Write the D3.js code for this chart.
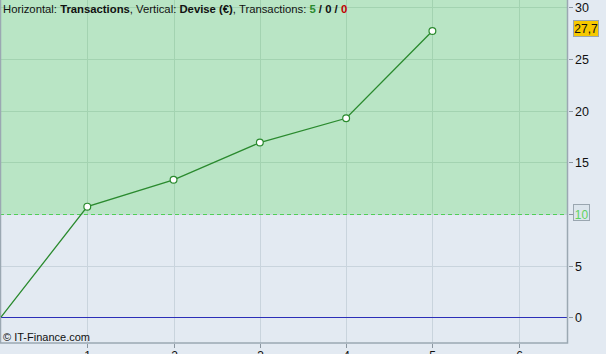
<!DOCTYPE html>
<html lang="fr">
<head>
<meta charset="UTF-8">
<title>Transactions</title>
<script src="https://cdn.jsdelivr.net/npm/d3@7"></script>
<style>
  body { margin: 0; background: #e3eaf2; }
  svg { display: block; font-family: "Liberation Sans", Arial, sans-serif; }
</style>
</head>
<body>
<svg width="606" height="354"></svg>
<script>
    // data
    const trades = [0, 1, 2, 3, 4, 5]
    const equity = [0, 10.7, 13.3, 16.9, 19.25, 27.7]
    const xTicks = [1, 2, 3, 4, 5, 6]
    const yTicks = [0, 5, 10, 15, 20, 25, 30]
    const startLevel = 10
    const lastLabel = "27,7"

    const width = 606, height = 354
    const plotW = 567, plotH = 343

    const svg = d3.select("svg")

    const x = d3.scaleLinear().domain([0, 6.56]).range([1, plotW])
    const y = d3.scaleLinear().domain([-2.5, 30.7]).range([plotH, 0])

    svg.append("rect").attr("width", width).attr("height", height).attr("fill", "#e3eaf2")

    const plot = svg.append("g")
    // lower (blue) and upper (green) zones
    plot.append("rect").attr("x", 0).attr("y", 0).attr("width", plotW).attr("height", plotH)
        .attr("fill", "#e3eaf2")
    plot.append("rect").attr("x", 0).attr("y", 0).attr("width", plotW).attr("height", y(startLevel))
        .attr("fill", "#b9e5c5")

    // grid
    const gridCol = v => v > startLevel ? "#a3d3b1" : "#c9d4dd"
    plot.selectAll(".gy").data(yTicks.filter(d => d !== 0)).join("line")
        .attr("x1", 0).attr("x2", plotW)
        .attr("y1", d => Math.round(y(d)) + 0.5).attr("y2", d => Math.round(y(d)) + 0.5)
        .attr("stroke", gridCol)
    xTicks.forEach(t => {
        const px = Math.round(x(t)) + 0.5
        plot.append("line").attr("x1", px).attr("x2", px).attr("y1", 0).attr("y2", y(startLevel))
            .attr("stroke", "#a3d3b1")
        plot.append("line").attr("x1", px).attr("x2", px).attr("y1", y(startLevel)).attr("y2", plotH)
            .attr("stroke", "#c9d4dd")
    })

    // start level dashed line
    plot.append("line")
        .attr("x1", 0).attr("x2", plotW)
        .attr("y1", Math.round(y(startLevel)) + 0.5).attr("y2", Math.round(y(startLevel)) + 0.5)
        .attr("stroke", "#4fcf55").attr("stroke-dasharray", "4,3")

    // zero line
    plot.append("line")
        .attr("x1", 0).attr("x2", plotW)
        .attr("y1", Math.round(y(0)) + 0.5).attr("y2", Math.round(y(0)) + 0.5)
        .attr("stroke", "#2b2fb8")

    // frame
    plot.append("rect").attr("x", 0.5).attr("y", -1).attr("width", plotW).attr("height", plotH + 1)
        .attr("fill", "none").attr("stroke", "#9ba8b2").attr("stroke-width", 1.5)

    // equity line
    const line = d3.line().x((d, i) => x(trades[i])).y(d => y(d))
    plot.append("path").datum(equity).attr("d", line)
        .attr("fill", "none").attr("stroke", "#2a8a2e").attr("stroke-width", 1.3)
    plot.selectAll(".pt").data(equity.slice(1)).join("circle")
        .attr("cx", (d, i) => x(trades[i + 1])).attr("cy", d => y(d)).attr("r", 3.4)
        .attr("fill", "#fff").attr("stroke", "#2a8a2e").attr("stroke-width", 1.2)

    // right axis
    const yAxis = svg.append("g")
    yTicks.forEach(t => {
        const py = Math.round(y(t)) + 0.5
        yAxis.append("line").attr("x1", plotW + 2).attr("x2", plotW + 6).attr("y1", py).attr("y2", py)
            .attr("stroke", "#8a96a0")
        if (t === startLevel) return
        yAxis.append("text").attr("x", plotW + 8).attr("y", py + 4.5)
            .attr("font-size", 12.5).attr("fill", "#111").text(t)
    })

    // bottom axis (labels fall below the window, only their tops show)
    xTicks.forEach(t => {
        const px = Math.round(x(t)) + 0.5
        svg.append("line").attr("x1", px).attr("x2", px).attr("y1", plotH + 1).attr("y2", plotH + 5)
            .attr("stroke", "#8a96a0")
        svg.append("text").attr("x", px).attr("y", 360).attr("text-anchor", "middle")
            .attr("font-size", 12).attr("fill", "#111").text(t)
    })

    // value boxes
    const lastY = y(equity[equity.length - 1])
    svg.append("rect").attr("x", 573.5).attr("y", Math.round(lastY) - 10.5).attr("width", 25).attr("height", 16)
        .attr("fill", "#f7c900").attr("stroke", "#9aa6b0")
    svg.append("text").attr("x", 586).attr("y", Math.round(lastY) + 2).attr("text-anchor", "middle")
        .attr("font-size", 12).attr("fill", "#111").text(lastLabel)

    const lvlY = Math.round(y(startLevel))
    svg.append("rect").attr("x", 573.5).attr("y", lvlY - 9.5).attr("width", 16).attr("height", 16)
        .attr("fill", "#dce5ed").attr("stroke", "#9aa6b0")
    svg.append("text").attr("x", 581.5).attr("y", lvlY + 4.5).attr("text-anchor", "middle")
        .attr("font-size", 12).attr("fill", "#5fd35f").text(startLevel)

    // title
    const title = svg.append("text").attr("x", 3).attr("y", 13).attr("font-size", 11.3).attr("fill", "#111")
    title.append("tspan").text("Horizontal: ")
    title.append("tspan").attr("font-weight", "bold").text("Transactions")
    title.append("tspan").text(", Vertical: ")
    title.append("tspan").attr("font-weight", "bold").text("Devise (€)")
    title.append("tspan").text(", Transactions: ")
    title.append("tspan").attr("font-weight", "bold").attr("fill", "#2a8a2e").text("5")
    title.append("tspan").attr("font-weight", "bold").text(" / ")
    title.append("tspan").attr("font-weight", "bold").text("0")
    title.append("tspan").attr("font-weight", "bold").text(" / ")
    title.append("tspan").attr("font-weight", "bold").attr("fill", "#c00000").text("0")

    svg.append("text").attr("x", 3).attr("y", 341).attr("font-size", 11).attr("fill", "#111")
        .text("© IT-Finance.com")
</script>
</body>
</html>
